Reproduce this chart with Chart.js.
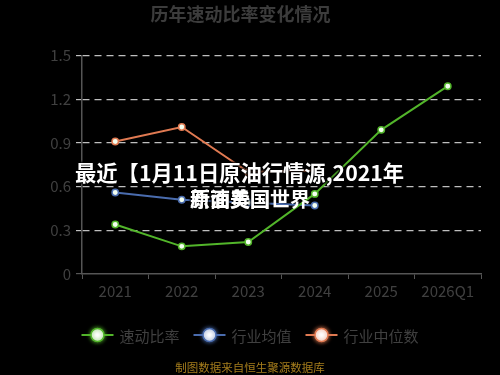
<!DOCTYPE html>
<html>
<head>
<meta charset="utf-8">
<script src="https://cdn.jsdelivr.net/npm/chart.js@4/dist/chart.umd.min.js"></script>
<style>
  html, body { margin: 0; padding: 0; background: #000; }
  #wrap { position: relative; width: 500px; height: 375px; background: #000; overflow: hidden; }
  canvas { display: block; }
  .ov { position: absolute; color: #fff; font-family: "Noto Sans CJK SC", sans-serif; font-weight: 700; font-size: 21px; line-height: 1; white-space: nowrap;
        text-shadow: 0 0 3px #000, 1px 1px 2px #000, -1px -1px 2px #000; }
</style>
</head>
<body>
<div id="wrap">
  <canvas id="c" width="500" height="375"></canvas>
  <div class="ov" id="l1" style="left:75px; top:161px; font-size:21.3px;">最近【1月11日原油行情源,2021年</div>
  <div class="ov" id="l2b" style="left:190px; top:189px; font-size:20px;">新面费国</div>
  <div class="ov" id="l2a" style="left:190px; top:189px; font-size:20px; text-shadow:none;">原油美国世界</div>
</div>
<script>
// ---- data ----
const categories = ['2021', '2022', '2023', '2024', '2025', '2026Q1'];
const quickRatio = [0.34, 0.19, 0.22, 0.55, 0.99, 1.29];
const industryAvg = [0.56, 0.51, 0.49, 0.47, null, null];
const industryMedian = [0.91, 1.01, 0.70, 0.71, null, null];
const yTickValues = [0, 0.3, 0.6, 0.9, 1.2, 1.5];
const seriesNames = ['速动比率', '行业均值', '行业中位数'];
const titleText = '历年速动比率变化情况';
const sourceText = '制图数据来自恒生聚源数据库';

const colors = ['#52b52a', '#4a6cae', '#e07a52'];
const FONT = '"Noto Sans CJK SC", "Noto Sans", sans-serif';
const TEXT_COLOR = '#404040';

function ds(label, data, color) {
  return {
    label, data,
    borderColor: color,
    backgroundColor: '#ffffff',
    borderWidth: 2,
    pointRadius: 3.2,
    pointBorderWidth: 1.5,
    pointBorderColor: color,
    pointBackgroundColor: '#f4fff0',
    tension: 0,
    spanGaps: false
  };
}

const legendPlugin = {
  id: 'customLegend',
  afterDraw(chart) {
    const ctx = chart.ctx;
    ctx.save();
    ctx.font = '15px ' + FONT;
    ctx.textBaseline = 'middle';
    const y = 335;
    const items = chart.data.datasets.map(d => ({ label: d.label, color: d.borderColor }));
    const lineW = 32, gapText = 6, gapItem = 14;
    let total = 0;
    items.forEach((it, i) => {
      it.w = ctx.measureText(it.label).width;
      total += lineW + gapText + it.w + (i < items.length - 1 ? gapItem : 0);
    });
    let x = 250 - total / 2;
    items.forEach(it => {
      ctx.strokeStyle = it.color;
      ctx.lineWidth = 2;
      ctx.beginPath();
      ctx.moveTo(x, y);
      ctx.lineTo(x + lineW, y);
      ctx.stroke();
      ctx.save();
      ctx.shadowColor = it.color;
      ctx.shadowBlur = 4;
      ctx.beginPath();
      ctx.arc(x + lineW / 2, y, 6.5, 0, Math.PI * 2);
      ctx.fillStyle = '#ffffff';
      ctx.fill();
      ctx.lineWidth = 1.5;
      ctx.strokeStyle = it.color;
      ctx.stroke();
      ctx.restore();
      ctx.fillStyle = TEXT_COLOR;
      ctx.textAlign = 'left';
      ctx.fillText(it.label, x + lineW + gapText, y + 1);
      x += lineW + gapText + it.w + gapItem;
    });
    ctx.font = '11.5px ' + FONT;
    ctx.fillStyle = '#a47c1c';
    ctx.textAlign = 'center';
    ctx.fillText(sourceText, 250, 368);
    ctx.restore();
  }
};

new Chart(document.getElementById('c'), {
  type: 'line',
  data: {
    labels: categories,
    datasets: [
      ds(seriesNames[0], quickRatio, colors[0]),
      ds(seriesNames[1], industryAvg, colors[1]),
      ds(seriesNames[2], industryMedian, colors[2])
    ]
  },
  options: {
    responsive: false,
    animation: false,
    layout: { padding: { left: 0, right: 19, top: 0, bottom: 71 } },
    plugins: {
      legend: { display: false },
      tooltip: { enabled: false },
      title: {
        display: true,
        text: titleText,
        color: '#3c3c3c',
        font: { family: FONT, size: 18, weight: 'bold' },
        padding: { top: 3, bottom: 31 }
      }
    },
    scales: {
      x: {
        offset: true,
        grid: {
          offset: true,
          drawOnChartArea: false,
          drawTicks: true,
          tickLength: 5,
          tickColor: '#555555',
          color: '#555555'
        },
        border: { display: true, color: '#555555', width: 1.5 },
        ticks: { color: TEXT_COLOR, font: { family: FONT, size: 15 }, padding: 3.5, maxRotation: 0, autoSkip: false }
      },
      y: {
        min: 0, max: 1.5,
        afterBuildTicks(scale) { scale.ticks = yTickValues.map(v => ({ value: v })); },
        afterFit(scale) { scale.width = 82; },
        grid: {
          color: (c) => c.tick && c.tick.value === 0 ? 'rgba(0,0,0,0)' : 'rgba(225,225,225,0.85)',
          lineWidth: 1.2,
          drawTicks: true,
          tickLength: 6,
          tickColor: (c) => c.tick && c.tick.value === 0 ? '#555555' : 'rgba(225,225,225,0.85)',
          tickBorderDash: [7, 5]
        },
        border: { display: true, color: '#555555', width: 1.5, dash: [7, 5] },
        ticks: {
          color: TEXT_COLOR, font: { family: FONT, size: 15 }, padding: 5,
          callback: (v) => String(v)
        }
      }
    }
  },
  plugins: [legendPlugin]
});
</script>
</body>
</html>
